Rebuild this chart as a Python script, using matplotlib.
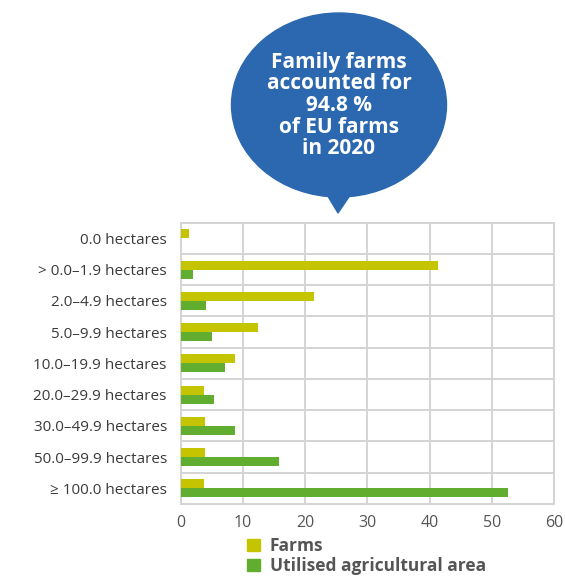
import matplotlib
matplotlib.use('Agg')
import matplotlib.pyplot as plt
from matplotlib.patches import Ellipse, Polygon, Patch
import numpy as np

# --------------------------------------------------------------------------------------
# Data (% of EU family farms / utilised agricultural area, 2020)

sizeClasses = ['0.0 hectares', '> 0.0\u20131.9 hectares', '2.0\u20134.9 hectares',
               '5.0\u20139.9 hectares', '10.0\u201319.9 hectares', '20.0\u201329.9 hectares',
               '30.0\u201349.9 hectares', '50.0\u201399.9 hectares', '\u2265 100.0 hectares']
farms       = [1.4, 41.4, 21.4, 12.5, 8.8, 3.8, 3.9, 3.9, 3.7]
uaa         = [0.0, 1.9, 4.0, 5.1, 7.2, 5.4, 8.8, 15.8, 52.6]
xTicks      = [0, 10, 20, 30, 40, 50, 60]

bubbleText  = 'Family farms\naccounted for\n94.8 %\nof EU farms\nin 2020'
# --------------------------------------------------------------------------------------
# Style

plt.rcParams['font.family'] = ['Open Sans', 'DejaVu Sans']

farmCol  = '#c4c400'
uaaCol   = '#61ad2f'
blueCol  = '#2b68b0'
gridCol  = '#d4d4d4'
textCol  = '#3a3a3a'

W, H = 565, 576
fig = plt.figure(figsize=(W / 100, H / 100), dpi=100)
ax = fig.add_axes([180.7 / W, 1 - 504 / H, (554 - 180.7) / W, (504 - 222.7) / H])

# --------------------------------------------------------------------------------------
# Bars

y = np.arange(len(sizeClasses))
h = 0.29
ax.barh(y - h / 2, farms, height=h, color=farmCol, zorder=3)
ax.barh(y + h / 2, uaa, height=h, color=uaaCol, zorder=3)

# y
ax.set_ylim(len(sizeClasses) - 0.5, -0.5)
ax.set_yticks(y)
ax.set_yticklabels(sizeClasses, fontsize=11, color=textCol)
ax.set_yticks(np.arange(0.5, len(sizeClasses) - 0.5, 1), minor=True)

# x
ax.set_xlim(0, 60)
ax.set_xticks(xTicks)
ax.set_xticklabels([str(t) for t in xTicks], fontsize=11.5, color='#555555')

ax.tick_params(which='both', length=0)
ax.tick_params(axis='y', pad=10)
ax.tick_params(axis='x', pad=8)

ax.grid(True, which='major', axis='x', color=gridCol, linewidth=1.4, zorder=0)
ax.grid(True, which='minor', axis='y', color=gridCol, linewidth=1.4, zorder=0)
for s in ax.spines.values():
    s.set_color(gridCol)
    s.set_linewidth(1.4)

# --------------------------------------------------------------------------------------
# Legend

handles = [Patch(color=farmCol, label='Farms'),
           Patch(color=uaaCol, label='Utilised agricultural area')]
leg = fig.legend(handles=handles, loc='upper left', bbox_to_anchor=(247 / W, 1 - 537 / H),
                 frameon=False, handlelength=0.75, handleheight=0.75, handletextpad=0.55,
                 labelspacing=0.12, borderpad=0, borderaxespad=0,
                 prop={'weight': 'bold', 'size': 12.5})
for t in leg.get_texts():
    t.set_color('#555555')

# --------------------------------------------------------------------------------------
# Speech bubble

ov = fig.add_axes([0, 0, 1, 1])
ov.set_xlim(0, W)
ov.set_ylim(H, 0)
ov.axis('off')
ov.add_patch(Ellipse((339, 105), 215, 184, color=blueCol))
ov.add_patch(Polygon([(323, 188), (355, 188), (338, 213)], closed=True, color=blueCol))
ov.text(339, 105.5, bubbleText, ha='center', va='center', color='white',
        fontsize=15, fontweight='bold', linespacing=1.04)

fig.savefig('out.png', dpi=100)
